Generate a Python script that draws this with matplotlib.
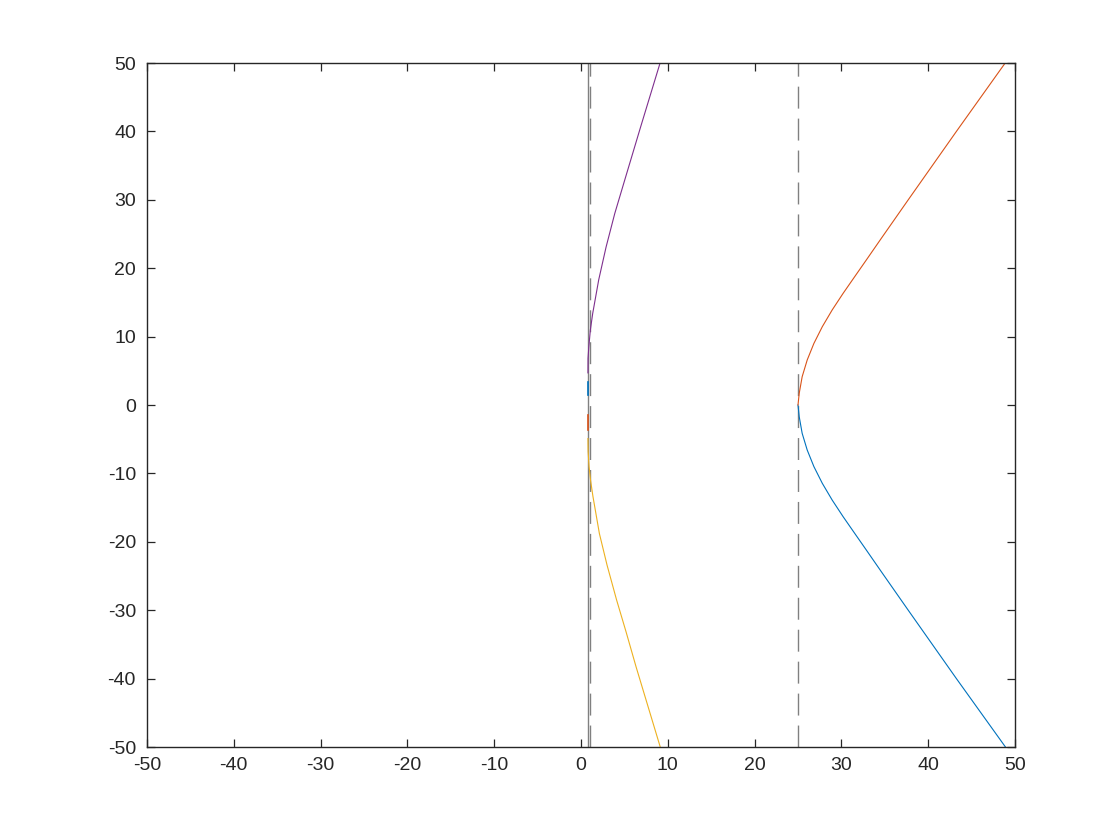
import numpy as np
import matplotlib
matplotlib.use('Agg')
import matplotlib.pyplot as plt

plt.rcParams['font.family'] = ['Liberation Sans', 'DejaVu Sans']
plt.rcParams['lines.scale_dashes'] = False
plt.rcParams['axes.unicode_minus'] = False

#**************************************************************************
# curves
# upper-left branch (purple)
x_purple = [0.80, 0.81, 0.90, 1.08, 1.35, 2.04, 2.89, 3.89, 5.04, 6.88, 9.11]
y_purple = [4.7, 6.8, 8.5, 11.0, 13.4, 18.3, 23.1, 28.0, 32.9, 40.7, 50.0]
# lower-left branch (yellow)
x_yellow = [0.80, 0.82, 0.93, 1.10, 1.38, 2.12, 3.00, 4.10, 5.20, 6.35, 9.13]
y_yellow = [-4.9, -6.8, -9.0, -11.0, -13.4, -18.8, -23.4, -28.5, -33.2, -38.3, -50.0]
# right branch, upper (red)
x_red = [25.00, 25.14, 25.48, 26.06, 26.83, 27.80, 28.94, 30.20, 31.53, 32.87, 34.60, 37.70, 43.25, 48.87]
y_red = [0.0, 1.71, 4.14, 6.58, 9.0, 11.45, 13.9, 16.33, 18.76, 21.2, 24.37, 30.0, 40.0, 50.0]
# right branch, lower (blue)
x_blue = [25.00, 25.14, 25.48, 26.06, 26.83, 27.80, 28.94, 30.20, 31.53, 32.87, 34.60, 37.70, 43.25, 48.90]
y_blue = [0.0, -1.71, -4.14, -6.58, -9.0, -11.45, -13.9, -16.33, -18.76, -21.2, -24.37, -30.0, -40.0, -50.0]
# short pieces sitting on the line near x=0.8
x_blue_seg = [0.78, 0.78]
y_blue_seg = [1.5, 3.4]
x_red_seg = [0.80, 0.80]
y_red_seg = [-1.5, -3.7]

# vertical reference lines
x_solid = 0.75
x_dashed = [1.0, 25.0]

c_blue = '#0072BD'
c_red = '#D95319'
c_yellow = '#EDB120'
c_purple = '#7E2F8E'
c_gray = '#808080'
c_ax = '#262626'

#**************************************************************************
fig = plt.figure(figsize=(11.2, 8.4), dpi=100)
ax = fig.add_axes([0.13125, 0.1107, 0.775, 0.8143])

ax.axvline(x_solid, color=c_gray, lw=1.0)
for xd in x_dashed:
	ax.axvline(xd, color=c_gray, lw=1.0, linestyle=(0, (15.8, 7.2)))

ax.plot(x_blue, y_blue, color=c_blue, lw=0.8)
ax.plot(x_red, y_red, color=c_red, lw=0.8)
ax.plot(x_yellow, y_yellow, color=c_yellow, lw=0.8)
ax.plot(x_purple, y_purple, color=c_purple, lw=0.8)
ax.plot(x_blue_seg, y_blue_seg, color=c_blue, lw=1.2)
ax.plot(x_red_seg, y_red_seg, color=c_red, lw=1.2)

ax.set_xlim([-50, 50])
ax.set_ylim([-50, 50])
ax.set_xticks(np.arange(-50, 51, 10))
ax.set_yticks(np.arange(-50, 51, 10))
ax.tick_params(direction='in', length=5.5, width=0.9, colors=c_ax,
	labelsize=14, top=True, right=True, pad=7)
ax.tick_params(axis='y', pad=8)
for s in ax.spines.values():
	s.set_color(c_ax)
	s.set_linewidth(1.0)

fig.savefig('out.png', dpi=100)
